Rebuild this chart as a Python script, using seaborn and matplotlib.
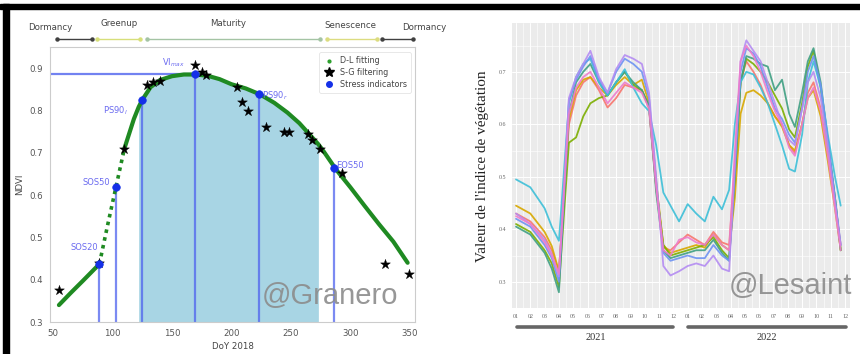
import numpy as np
import pandas as pd
import matplotlib
matplotlib.use("Agg")
import matplotlib.pyplot as plt
import seaborn as sns
from matplotlib.lines import Line2D
from matplotlib.patches import Rectangle

# ---------------- data : left panel (phenology, DoY 2018) ----------------
curve_x = [55, 65, 75, 89, 96, 103, 110, 118, 122, 125, 132, 140, 150, 160, 170, 180,
           190, 200, 212, 224, 236, 247, 257, 266, 273, 277, 288, 300, 312, 324, 336, 348]
curve_y = [0.340, 0.369, 0.397, 0.437, 0.53, 0.62, 0.71, 0.78, 0.808, 0.825, 0.855, 0.872,
           0.881, 0.885, 0.885, 0.882, 0.874, 0.862, 0.852, 0.838, 0.818, 0.795, 0.770,
           0.742, 0.720, 0.705, 0.660, 0.618, 0.574, 0.531, 0.490, 0.440]
sg_x = [55, 89, 110, 129, 134, 140, 169, 175, 179, 205, 209, 214, 229, 244, 248,
        264, 268, 274, 293, 329, 349]
sg_y = [0.375, 0.44, 0.71, 0.86, 0.868, 0.87, 0.907, 0.89, 0.883, 0.855, 0.82, 0.798,
        0.762, 0.748, 0.75, 0.745, 0.731, 0.71, 0.651, 0.437, 0.413]
stress_names = ["SOS20", "SOS50", "PS90$_l$", "VI$_{max}$", "PS90$_r$", "EOS50"]
stress_x = [89, 103, 125, 169, 223, 286]
stress_y = [0.437, 0.62, 0.825, 0.885, 0.838, 0.663]
phase_names = ["Dormancy", "Greenup", "Maturity", "Senescence", "Dormancy"]
fill_start, fill_end = 122, 273
dotted_start, dotted_end = 89, 110

# ---------------- data : right panel (vegetation index 2021-2022) ----------------
months = ["01", "02", "03", "04", "05", "06", "07", "08", "09", "10", "11", "12"] * 2
years = ["2021", "2022"]
t = [0, 1, 2, 2.5, 3.0, 3.7, 4.2, 4.7, 5.2, 5.8, 6.4, 7.0, 7.6, 8.2, 8.8, 9.3, 9.8,
     10.3, 10.8, 11.4, 12.0, 12.6, 13.2, 13.8, 14.4, 14.9, 15.3, 15.7, 16.1, 16.6,
     17.1, 17.6, 18.1, 18.6, 19.1, 19.5, 20.0, 20.4, 20.8, 21.3, 21.8, 22.3, 22.7]
s_red = [0.430, 0.415, 0.385, 0.360, 0.318, 0.600, 0.655, 0.680, 0.690, 0.665, 0.632,
         0.650, 0.675, 0.670, 0.665, 0.630, 0.480, 0.365, 0.360, 0.375, 0.390, 0.380,
         0.370, 0.395, 0.375, 0.370, 0.520, 0.680, 0.720, 0.700, 0.675, 0.640, 0.615,
         0.600, 0.560, 0.545, 0.600, 0.660, 0.680, 0.630, 0.540, 0.450, 0.370]
s_gold = [0.445, 0.430, 0.395, 0.368, 0.320, 0.610, 0.665, 0.685, 0.690, 0.670, 0.655,
          0.675, 0.690, 0.675, 0.685, 0.640, 0.490, 0.370, 0.355, 0.360, 0.365, 0.370,
          0.365, 0.390, 0.370, 0.360, 0.460, 0.620, 0.660, 0.665, 0.655, 0.640, 0.615,
          0.595, 0.560, 0.550, 0.600, 0.650, 0.665, 0.615, 0.530, 0.440, 0.360]
s_green = [0.410, 0.395, 0.360, 0.335, 0.290, 0.565, 0.575, 0.615, 0.640, 0.650, 0.655,
           0.680, 0.700, 0.675, 0.665, 0.635, 0.480, 0.370, 0.350, 0.355, 0.360, 0.365,
           0.370, 0.385, 0.360, 0.345, 0.500, 0.680, 0.725, 0.715, 0.700, 0.680, 0.655,
           0.630, 0.590, 0.575, 0.640, 0.710, 0.740, 0.670, 0.560, 0.460, 0.360]
s_teal = [0.405, 0.390, 0.355, 0.325, 0.280, 0.620, 0.680, 0.700, 0.715, 0.680, 0.655,
          0.680, 0.700, 0.680, 0.665, 0.635, 0.470, 0.360, 0.345, 0.350, 0.355, 0.360,
          0.360, 0.380, 0.355, 0.340, 0.500, 0.680, 0.730, 0.725, 0.715, 0.710, 0.665,
          0.685, 0.620, 0.595, 0.660, 0.720, 0.745, 0.680, 0.570, 0.460, 0.360]
s_cyan = [0.495, 0.480, 0.440, 0.405, 0.378, 0.640, 0.690, 0.715, 0.725, 0.680, 0.655,
          0.680, 0.705, 0.670, 0.640, 0.625, 0.560, 0.470, 0.445, 0.415, 0.448, 0.430,
          0.415, 0.462, 0.438, 0.475, 0.600, 0.680, 0.700, 0.695, 0.670, 0.640, 0.600,
          0.560, 0.515, 0.510, 0.580, 0.680, 0.720, 0.670, 0.580, 0.500, 0.445]
s_blue = [0.420, 0.405, 0.370, 0.345, 0.300, 0.645, 0.685, 0.710, 0.730, 0.685, 0.660,
          0.700, 0.725, 0.715, 0.700, 0.650, 0.490, 0.355, 0.340, 0.345, 0.350, 0.345,
          0.345, 0.370, 0.350, 0.340, 0.520, 0.700, 0.745, 0.735, 0.710, 0.670, 0.630,
          0.610, 0.580, 0.565, 0.630, 0.700, 0.730, 0.675, 0.570, 0.460, 0.370]
s_lav = [0.430, 0.410, 0.380, 0.352, 0.310, 0.650, 0.690, 0.715, 0.740, 0.690, 0.660,
         0.705, 0.732, 0.725, 0.715, 0.660, 0.500, 0.330, 0.312, 0.320, 0.330, 0.335,
         0.330, 0.350, 0.325, 0.320, 0.520, 0.720, 0.760, 0.740, 0.720, 0.680, 0.640,
         0.600, 0.570, 0.560, 0.630, 0.680, 0.700, 0.650, 0.560, 0.450, 0.370]
s_pink = [0.425, 0.410, 0.375, 0.350, 0.315, 0.620, 0.670, 0.690, 0.700, 0.670, 0.640,
          0.660, 0.680, 0.670, 0.660, 0.630, 0.480, 0.360, 0.350, 0.380, 0.385, 0.375,
          0.370, 0.390, 0.370, 0.360, 0.550, 0.720, 0.750, 0.730, 0.700, 0.660, 0.625,
          0.600, 0.555, 0.540, 0.600, 0.650, 0.670, 0.625, 0.540, 0.440, 0.360]
series = {"s1": s_red, "s2": s_gold, "s3": s_green, "s4": s_teal,
          "s5": s_cyan, "s6": s_blue, "s7": s_lav, "s8": s_pink}
line_colors = ["#F8766D", "#D8A800", "#7CAE00", "#3FA083", "#3DBFD8", "#6E93F2", "#B48CF2", "#EE7CCB"]

# ---------------- figure ----------------
sns.set_theme(style="white")
plt.rcParams['font.family'] = ['DejaVu Sans']
W, H = 860, 354
fig = plt.figure(figsize=(8.6, 3.54), dpi=100)
fig.patch.set_facecolor("white")


def fx(px):
    return px / W


def fy(py):
    return 1 - py / H


# black frame pieces
fig.patches.append(Rectangle((0, fy(9)), 1, fy(4) - fy(9), transform=fig.transFigure,
                             color="black", zorder=10))
fig.patches.append(Rectangle((fx(3), 0), fx(6), fy(4), transform=fig.transFigure,
                             color="black", zorder=10))

# ---------------- left panel ----------------
ax1 = fig.add_axes([fx(50), fy(322), fx(415) - fx(50), fy(47) - fy(322)])
xlo, xhi = 47.5, 354.2
ax1.set_xlim(xlo, xhi)
ax1.set_ylim(0.3, 0.95)

cx = np.array(curve_x)
cy = np.array(curve_y)
m_fill = (cx >= fill_start) & (cx <= fill_end)
ax1.fill_between(cx[m_fill], 0.3, cy[m_fill], color="#a8d5e4", lw=0, zorder=1)

stress_col = "#4f63ee"
ax1.hlines(stress_y[3], xlo, stress_x[3], color=stress_col, lw=1.6, alpha=0.8, zorder=2)
ax1.vlines(stress_x, 0.3, stress_y, color=stress_col, lw=1.6, alpha=0.75, zorder=2)

m1 = cx <= dotted_start
m2 = (cx >= dotted_start) & (cx <= dotted_end)
m3 = cx >= dotted_end
sns.lineplot(x=cx[m1], y=cy[m1], ax=ax1, color="#1f8a22", lw=3.0, zorder=3)
sns.lineplot(x=cx[m2], y=cy[m2], ax=ax1, color="#1f8a22", lw=2.6, zorder=3,
             linestyle=(0, (1, 1.2)))
sns.lineplot(x=cx[m3], y=cy[m3], ax=ax1, color="#1f8a22", lw=3.0, zorder=3)

sns.scatterplot(x=sg_x, y=sg_y, ax=ax1, marker="*", color="black", s=55,
                edgecolor="black", linewidth=0.3, zorder=4)
sns.scatterplot(x=stress_x, y=stress_y, ax=ax1, marker="o", color="#1530e8", s=30,
                edgecolor="#1530e8", zorder=5)

lab_col = "#6b6bf0"
lab_pos = [(88, 0.475, "right"), (98, 0.63, "right"), (113, 0.80, "right"),
           (142, 0.912, "left"), (226, 0.834, "left"), (288, 0.67, "left")]
for name, (lx, ly, ha) in zip(stress_names, lab_pos):
    ax1.text(lx, ly, name, color=lab_col, fontsize=6, ha=ha, va="center", zorder=6)

ax1.set_xticks([50, 100, 150, 200, 250, 300, 350])
ax1.set_yticks([0.3, 0.4, 0.5, 0.6, 0.7, 0.8, 0.9])
ax1.tick_params(labelsize=6.2, colors="#555555", length=3, width=0.6, pad=2)
for sp in ax1.spines.values():
    sp.set_color("#cccccc")
    sp.set_linewidth(0.8)
ax1.set_xlabel("DoY 2018", fontsize=6.2, color="#444444", labelpad=3)
ax1.set_ylabel("NDVI", fontsize=6.2, color="#444444", labelpad=4)

handles = [Line2D([], [], ls="", marker=".", color="#2ca02c", markersize=4),
           Line2D([], [], ls="", marker="*", color="black", markersize=7),
           Line2D([], [], ls="", marker="o", color="#1530e8", markersize=4)]
leg = ax1.legend(handles, ["D-L fitting", "S-G filtering", "Stress indicators"],
                 loc="upper right", fontsize=5.8, frameon=True, borderpad=0.5,
                 handletextpad=0.6, labelspacing=0.35, handlelength=1.5,
                 bbox_to_anchor=(1.0, 0.995))
leg.get_frame().set_edgecolor("#dddddd")
leg.get_frame().set_linewidth(0.6)
for txt in leg.get_texts():
    txt.set_color("#444444")

# phase annotations
phase_text_pos = [(50, 27), (119, 24), (228, 24), (350, 26), (424, 27)]
phase_arrows = [(57, 92, "#404040"), (97, 140, "#d7df7a"), (147, 320, "#a4c4a4"),
                (327, 377, "#dcdc80"), (382, 413, "#404040")]
for name, (px, py) in zip(phase_names, phase_text_pos):
    fig.text(fx(px), fy(py), name, fontsize=6.2, color="#444444", ha="center", va="center")
for a, b, c in phase_arrows:
    fig.add_artist(Line2D([fx(a), fx(b)], [fy(39), fy(39)], color=c, lw=1.0,
                          marker="o", markersize=2.2, markeredgecolor=c,
                          transform=fig.transFigure))

fig.text(fx(330), fy(296), "@Granero", fontsize=21, color="#8c8c8c",
         family="Liberation Sans", ha="center", va="center", alpha=0.9)

# ---------------- right panel ----------------
ax2 = fig.add_axes([fx(512), fy(308), fx(850) - fx(512), fy(23) - fy(308)])
ax2.set_facecolor("#ebebeb")
rows = []
for name, vals in series.items():
    for ti, v in zip(t, vals):
        rows.append((name, ti, v))
df = pd.DataFrame(rows, columns=["serie", "t", "v"])
sns.lineplot(data=df, x="t", y="v", hue="serie", palette=line_colors, ax=ax2,
             lw=1.3, alpha=0.9, legend=False, estimator=None, zorder=3)
ax2.set_xlim(-0.28, 23.35)
ax2.set_ylim(0.2526, 0.793)
ax2.set_xticks(range(24))
ax2.set_xticklabels(months)
ax2.set_xticks(np.arange(-0.0, 23.5, 0.5), minor=True)
ax2.set_yticks([0.3, 0.4, 0.5, 0.6, 0.7])
ax2.set_yticklabels(["0.3", "0.4", "0.5", "0.6", "0.7"])
ax2.set_yticks(np.arange(0.25, 0.8, 0.05), minor=True)
ax2.grid(True, which="major", color="white", lw=0.7, zorder=0)
ax2.grid(True, which="minor", color="white", lw=0.4, zorder=0)
ax2.set_axisbelow(True)
for sp in ax2.spines.values():
    sp.set_visible(False)
ax2.tick_params(which="major", labelsize=4.3, colors="#666666", length=2, width=0.5, pad=2)
ax2.tick_params(which="minor", length=0)
for lab in ax2.get_xticklabels() + ax2.get_yticklabels():
    lab.set_family("Liberation Serif")
ax2.set_xlabel("")
ax2.set_ylabel("")
fig.text(fx(483), fy(166), "Valeur de l'indice de végétation", rotation=90,
         family="Liberation Serif", fontsize=11, color="#222222", ha="center", va="center")

year_spans = [(517, 673, 596), (688, 846, 767)]
for (a, b, c), yr in zip(year_spans, years):
    fig.add_artist(Line2D([fx(a), fx(b)], [fy(327), fy(327)], color="#666666", lw=2.6,
                          transform=fig.transFigure))
    fig.text(fx(c), fy(338), yr, family="Liberation Serif", fontsize=7.5,
             color="#333333", ha="center", va="center")

fig.text(fx(790), fy(286), "@Lesaint", fontsize=21, color="#8c8c8c",
         family="Liberation Sans", ha="center", va="center", alpha=0.9)

fig.savefig("out.png", dpi=100)
